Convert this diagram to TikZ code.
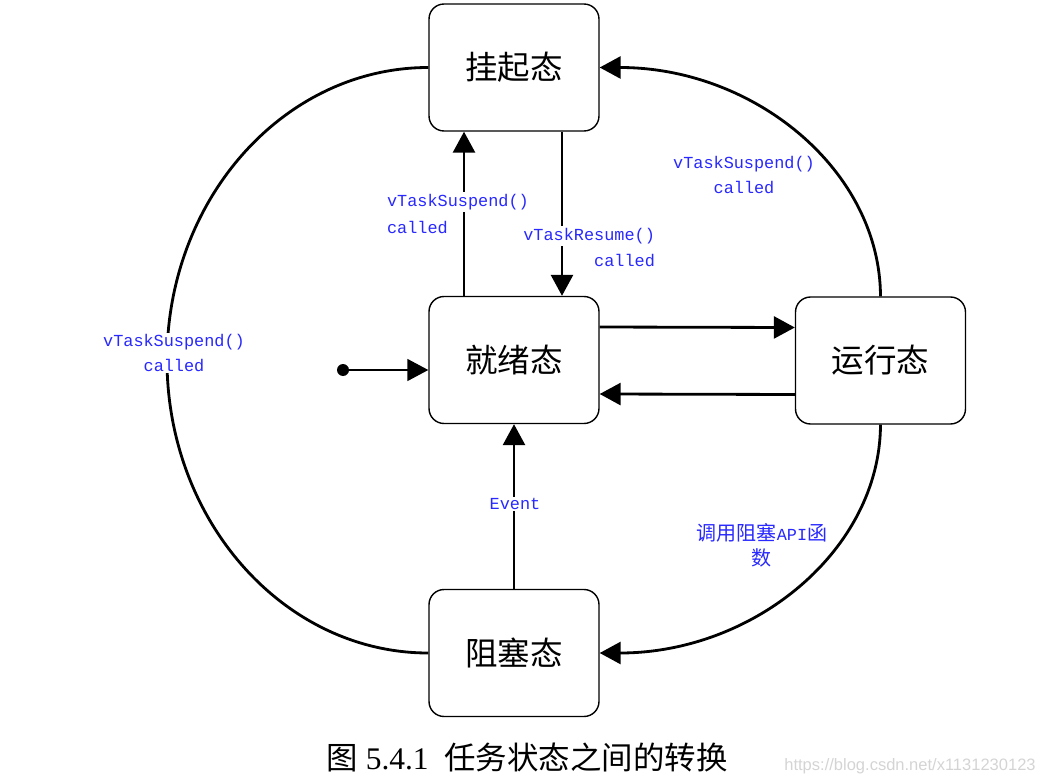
\documentclass[tikz,border=0pt]{standalone}
\usepackage{fontspec}
\setmainfont{Liberation Serif}
\setmonofont{Liberation Mono}
\newfontfamily\cjk{Noto Sans CJK SC}
\newfontfamily\wmfont{Liberation Sans}
\usetikzlibrary{arrows.meta}
\definecolor{lblue}{RGB}{40,40,255}
\def\lbfont{\ttfamily\fontsize{9.6}{14.2}\selectfont}
\def\lbcjk{\cjk\fontsize{11.4}{14.2}\selectfont}

\begin{document}
\begin{tikzpicture}[x=0.02cm, y=-0.02cm,
    state/.style={draw, rounded corners=0.3cm, line width=0.8pt, minimum width=3.4cm, minimum height=2.54cm, font=\cjk\fontsize{18.5}{20}\selectfont},
    trans/.style={line width=1.6pt, -{Triangle[length=4.2mm,width=4.4mm]}},
    lbl/.style={text=lblue, font=\lbfont, inner sep=1pt}]
        \useasboundingbox (0,0) rectangle (1045,784);
        \node[state] (susp) at (514,67.5) {挂起态};
        \node[state] (ready) at (514,360) {就绪态};
        \node[state] (run) at (880.5,360.5) {运行态};
        \node[state] (block) at (514,653) {阻塞态};
        \node[circle, fill, inner sep=0pt, minimum size=0.24cm] (init) at (343,370) {};
        \coordinate (lmid) at (167,360);
        % straight transitions
        \draw[trans, line width=0.9pt] (init) -- (init -| ready.west);
        \draw[trans] ([xshift=-1cm]ready.north) -- ([xshift=-1cm]susp.south);
        \draw[trans] ([xshift=0.96cm]susp.south) -- ([xshift=0.96cm]ready.north);
        \draw[trans] ([yshift=0.66cm]ready.east) -- ([yshift=0.66cm]run.west);
        \draw[trans] ([yshift=-0.68cm]run.west) -- ([yshift=-0.68cm]ready.east);
        \draw[trans] (block.north) -- (ready.south);
        % curved transitions
        \draw[trans] (run.north) .. controls (880,170) and (754,67.5) .. (susp.east);
        \draw[trans] (run.south) .. controls (880,550) and (754,653) .. (block.east);
        \draw[line width=1.6pt] (susp.west) .. controls (284,67.5) and (167,199) .. (lmid) .. controls (167,521) and (284,653) .. (block.west);
        % labels
        \node[lbl, fill=white, anchor=west] (l1a) at (385,202) {vTaskSuspend()};
        \node[lbl, anchor=west] (l1b) at (385,227) {called};
        \node[lbl, fill=white, anchor=east] (l2a) at (657,236) {vTaskResume()};
        \node[lbl, anchor=east] (l2b) at (657,260) {called};
        \node[lbl, fill=white] (l3) at (515,504) {Event};
        \node[lbl, align=center] (l4) at (744,175) {vTaskSuspend()\\called};
        \node[lbl, align=center] (l5) at (762,545) {{\lbcjk 调用阻塞}API{\lbcjk 函}\\{\lbcjk 数}};
        \node[lbl, align=center, fill=white] (l6) at (174,353) {vTaskSuspend()\\called};
        \node[font=\fontsize{17.9}{20}\selectfont] (cap) at (527,757) {{\cjk 图}~5.4.1\ \ {\cjk 任务状态之间的转换}};
        \node[font=\wmfont\fontsize{9.4}{10}\selectfont, text=black!17, anchor=east, inner sep=0pt] (wm) at (1036,766) {https://blog.csdn.net/x1131230123};
      \end{tikzpicture}
\end{document}
